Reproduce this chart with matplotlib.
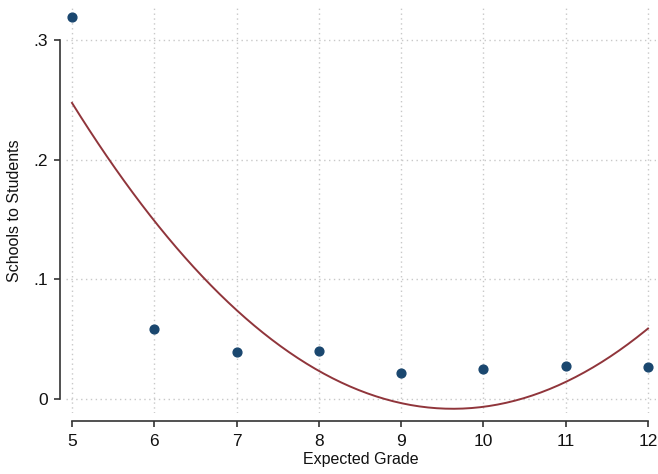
import matplotlib.pyplot as plt
import numpy as np

plt.rcParams['font.family'] = ['Liberation Sans', 'DejaVu Sans']

# dados
grade = [5, 6, 7, 8, 9, 10, 11, 12]
share = [0.319, 0.0585, 0.039, 0.040, 0.0217, 0.025, 0.0276, 0.0265]
ytick_vals = [0, 0.1, 0.2, 0.3]
ytick_labels = ['0', '.1', '.2', '.3']

# ajuste quadrático (como qfit no Stata)
coef = np.polyfit(grade, share, 2)
xs = np.linspace(5, 12, 200)
ys = np.polyval(coef, xs)

fig = plt.figure(figsize=(6.58, 4.74), dpi=100)
ax = fig.add_axes([66 / 658, 1 - 413 / 474, (656 - 66) / 658, (413 - 8) / 474])

ax.plot(xs, ys, color='#90353b', lw=1.4, zorder=2)
ax.scatter(grade, share, color='#1a476f', s=40, zorder=3, clip_on=False)

ax.set_xlim(5 - 6 / 82.3, 12 + 8 / 82.3)
ax.set_ylim(-0.0117, 0.3 + 32 / 1196.7)

ax.set_xticks(grade)
ax.set_yticks(ytick_vals)
ax.set_yticklabels(ytick_labels)
ax.grid(True, color='#c8c8c8', linestyle=(0, (1, 2.5)), lw=1)
ax.set_axisbelow(True)

for s in ['top', 'right']:
    ax.spines[s].set_visible(False)
ax.spines['left'].set_position(('outward', 4.3))
ax.spines['bottom'].set_position(('outward', 5.8))
ax.spines['left'].set_bounds(0, 0.3)
ax.spines['bottom'].set_bounds(5, 12)
for s in ['left', 'bottom']:
    ax.spines[s].set_color('#333333')
    ax.spines[s].set_linewidth(1.2)

ax.tick_params(axis='both', length=4.5, width=1.2, color='#333333', labelsize=12.5,
               labelcolor='#111111')
ax.tick_params(axis='x', pad=5)
ax.tick_params(axis='y', pad=4)

ax.set_xlabel('Expected Grade', fontsize=11.5, labelpad=2, color='#111111')
ax.set_ylabel('Schools to Students', fontsize=11.5, labelpad=8, color='#111111')

fig.savefig('out.png', dpi=100)
